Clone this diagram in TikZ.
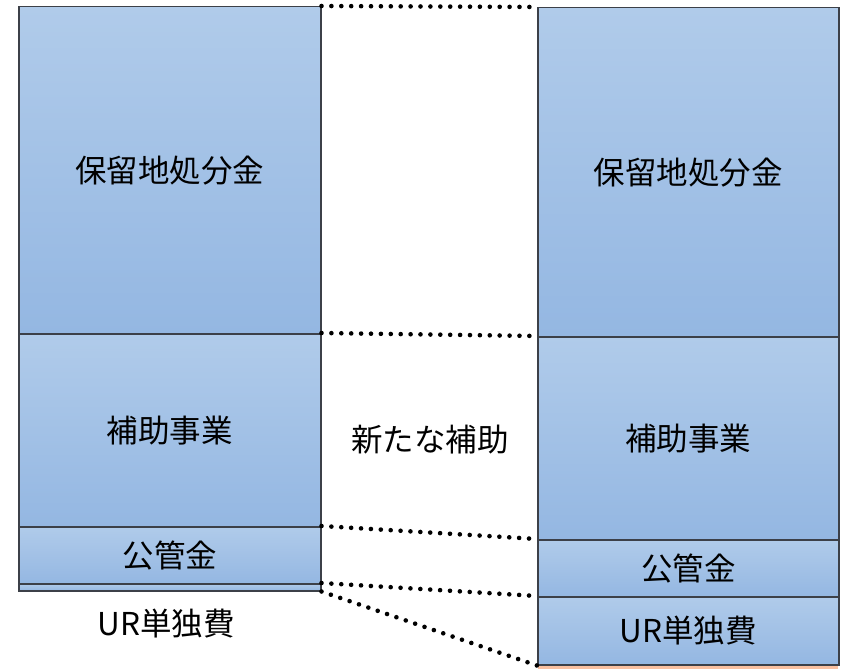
\documentclass[tikz,border=0pt]{standalone}
\usepackage{fontspec}
\newfontfamily\cjk{Noto Sans CJK JP}
\definecolor{boxtop}{RGB}{176,203,234}
\definecolor{boxbot}{RGB}{148,183,226}
\definecolor{edge}{RGB}{60,64,72}
\definecolor{salmon}{RGB}{250,192,160}
\tikzset{
  blk/.style={draw=edge, line width=1.5pt, top color=boxtop, bottom color=boxbot,
    inner sep=0pt, anchor=north west, font=\cjk\fontsize{31.5}{34}\selectfont},
  lbl/.style={inner sep=0pt, font=\cjk\fontsize{31.5}{34}\selectfont},
  dots/.style={line width=4.6pt, line cap=round, dash pattern=on 0pt off 9.9pt, black}
}
\begin{document}
\begin{tikzpicture}[x=1pt,y=-1pt]
\useasboundingbox (0,0) rectangle (841,669);
% salmon strip under right column
\fill[salmon] (538,664) rectangle (838,669);
% left column
\node[blk, minimum width=302pt, minimum height=327pt] (l1) at (18,6) {保留地処分金};
\node[blk, minimum width=302pt, minimum height=193pt] (l2) at (18,333) {補助事業};
\node[blk, minimum width=302pt, minimum height=57pt] (l3) at (18,526) {公管金};
\node[blk, minimum width=302pt, minimum height=7pt] (l4) at (18,583) {};
\node[lbl] (l4t) at (166,624) {UR単独費};
% right column
\node[blk, minimum width=301pt, minimum height=329pt] (r1) at (537,7) {保留地処分金};
\node[blk, minimum width=301pt, minimum height=203pt] (r2) at (537,336) {補助事業};
\node[blk, minimum width=301pt, minimum height=57pt] (r3) at (537,539) {公管金};
\node[blk, minimum width=301pt, minimum height=68pt] (r4) at (537,596) {UR単独費};
% middle label
\node[lbl] (mid) at (430,440) {新たな補助};
% dotted connectors
\draw[dots] (l1.north east) -- (r1.north west);
\draw[dots] (l2.north east) -- (r2.north west);
\draw[dots] (l3.north east) -- (r3.north west);
\draw[dots] (l4.north east) -- (r4.north west);
\draw[dots] (l4.south east) -- (r4.south west);
\end{tikzpicture}
\end{document}
